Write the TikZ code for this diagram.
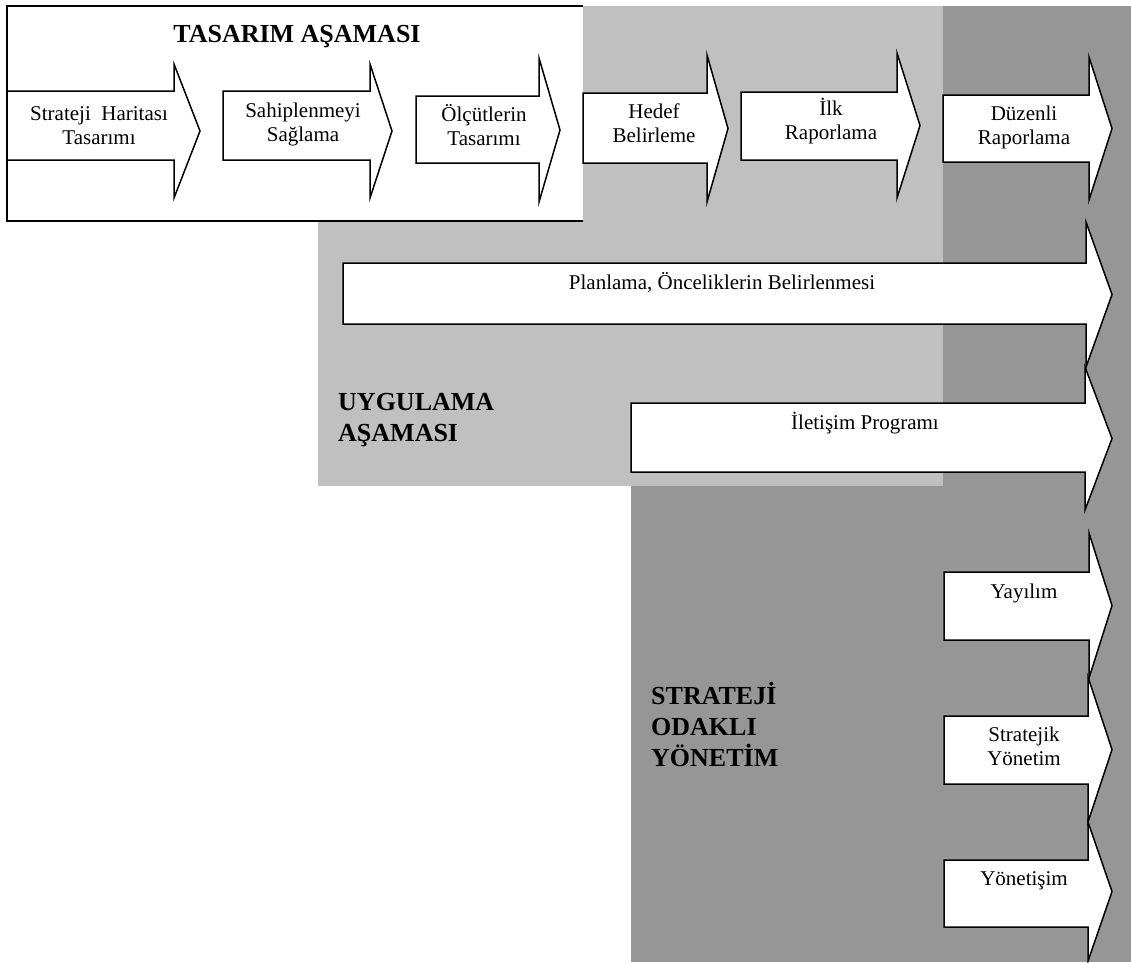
\documentclass[tikz,border=0pt]{standalone}
\usepackage{fontspec}
\setmainfont{Liberation Serif}
\definecolor{phaselight}{HTML}{C0C0C0}
\definecolor{phasedark}{HTML}{969696}
\tikzset{
  arrowbody/.style={draw=black, fill=white, line width=1.5pt, line join=miter},
  steptext/.style={inner sep=0pt, align=center, font=\fontsize{21}{24}\selectfont},
  phasetitle/.style={inner sep=0pt, align=left, font=\fontsize{26}{31}\selectfont\bfseries},
}
% block arrow: name, left x, shaft end x, tip x, shaft top, shaft bottom, head top, head bottom
\newcommand\blockarrow[8]{%
  \draw[arrowbody] (#2,#5) coordinate (#1-nw) -- (#3,#5) -- (#3,#7) -- (#4,{(#7+#8)/2}) coordinate (#1-tip)
    -- (#3,#8) -- (#3,#6) -- (#2,#6) coordinate (#1-sw) -- cycle;}
\begin{document}
\begin{tikzpicture}[x=1pt, y=-1pt]
\useasboundingbox (0,0) rectangle (1131,962);
\fill[white] (0,0) rectangle (1131,962);

% phase backgrounds
\fill[phaselight] (318,6) rectangle (943,486);
\fill[phasedark] (943,6) rectangle (1131,486);
\fill[phasedark] (631,486) rectangle (1131,962);

% design phase panel
\fill[white] (7,6) rectangle (583,221);
\draw[line width=1.5pt] (583,6) -- (7,6) -- (7,221) -- (583,221);

% top row of steps
\blockarrow{a1}{7}{174}{200}{91}{160}{64}{198}
\blockarrow{a2}{223}{370}{392}{91}{160}{64}{198}
\blockarrow{a3}{416}{539}{560}{96}{163}{58}{202}
\blockarrow{a4}{583}{707}{728}{93}{163}{55}{202}
\blockarrow{a5}{741}{897}{920}{92}{160}{53}{198}
\blockarrow{a6}{943}{1089}{1112}{95}{162}{57}{200}

% implementation phase
\blockarrow{a7}{343}{1086}{1112}{263}{324}{222}{367}
\blockarrow{a8}{631}{1085}{1112}{403}{472}{367}{510}

% strategy-focused management
\blockarrow{a9}{944}{1089}{1112}{572}{640}{533}{678}
\blockarrow{a10}{944}{1088}{1112}{716}{784}{677}{822}
\blockarrow{a11}{944}{1088}{1112}{860}{927}{822}{961}

% labels
\node[steptext] (t1) at (99,125.5) {Strateji~ Haritası\\Tasarımı};
\node[steptext] (t2) at (303,124.5) {Sahiplenmeyi\\Sağlama};
\node[steptext] (t3) at (484,125.5) {Ölçütlerin\\Tasarımı};
\node[steptext] (t4) at (654,123) {Hedef\\Belirleme};
\node[steptext] (t5) at (831,121) {İlk\\Raporlama};
\node[steptext] (t6) at (1024,127) {Düzenli\\Raporlama};
\node[steptext, anchor=base] (t7) at (722,289) {Planlama, Önceliklerin Belirlenmesi};
\node[steptext, anchor=base] (t8) at (865,429) {İletişim Programı};
\node[steptext, anchor=base] (t9) at (1024,598) {Yayılım};
\node[steptext] (t10) at (1024,746.5) {Stratejik\\Yönetim};
\node[steptext, anchor=base] (t11) at (1024,885.5) {Yönetişim};

\node[phasetitle, anchor=base] (h1) at (297,42) {TASARIM AŞAMASI};
\node[phasetitle, anchor=west] (h2) at (338,420) {UYGULAMA\\AŞAMASI};
\node[phasetitle, anchor=west] (h3) at (651,724.5) {STRATEJİ\\ODAKLI\\YÖNETİM};
\end{tikzpicture}
\end{document}
